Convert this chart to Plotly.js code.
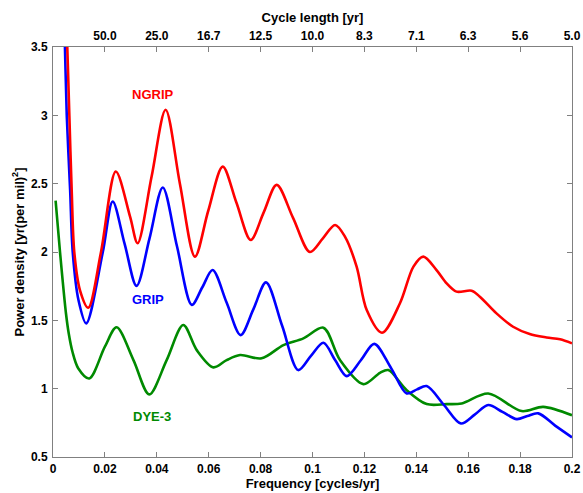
<!DOCTYPE html>
<html>
<head>
<meta charset="utf-8">
<script src="https://cdn.plot.ly/plotly-3.0.1.min.js"></script>
<style>html,body{margin:0;padding:0;background:#fff;}#chart{width:583px;height:493px;}</style>
</head>
<body>
<div id="chart"></div>
<script>
// NGRIP (red)
const ngripFreq = [0.004, 0.0055, 0.0063, 0.0072, 0.0082, 0.0104, 0.0136, 0.0185, 0.0242, 0.0297, 0.0326, 0.0380, 0.0434, 0.0489, 0.0547, 0.0598, 0.0654, 0.0707, 0.0762, 0.0812, 0.0862, 0.0925, 0.0990, 0.1040, 0.1087, 0.1125, 0.1170, 0.1209, 0.1268, 0.1337, 0.1389, 0.1427, 0.1478, 0.1517, 0.1555, 0.1613, 0.1645, 0.1709, 0.1773, 0.1837, 0.1902, 0.1954, 0.2000];
const ngripPower = [4.3, 3.5, 3.0, 2.455, 2.0, 1.72, 1.592, 2.0, 2.589, 2.259, 2.064, 2.552, 3.041, 2.5, 1.966, 2.3, 2.625, 2.36, 2.088, 2.29, 2.491, 2.25, 2.0, 2.1, 2.198, 2.113, 1.893, 1.575, 1.409, 1.625, 1.893, 1.966, 1.868, 1.771, 1.71, 1.717, 1.673, 1.551, 1.453, 1.40, 1.375, 1.361, 1.332];
// GRIP (blue)
const gripFreq = [0.0035, 0.0046, 0.0053, 0.0066, 0.0076, 0.0098, 0.0128, 0.0192, 0.0230, 0.0276, 0.0322, 0.0372, 0.0423, 0.0478, 0.0535, 0.0575, 0.0615, 0.0669, 0.0723, 0.0772, 0.0821, 0.0883, 0.0945, 0.0994, 0.1042, 0.1087, 0.1132, 0.1187, 0.1238, 0.1303, 0.1363, 0.1403, 0.1440, 0.1507, 0.1572, 0.1625, 0.1677, 0.1732, 0.1787, 0.1828, 0.1870, 0.1935, 0.2000];
const gripPower = [4.3, 3.5, 3.0, 2.455, 2.0, 1.65, 1.478, 2.0, 2.37, 2.06, 1.752, 2.1, 2.472, 2.04, 1.613, 1.74, 1.868, 1.63, 1.392, 1.58, 1.778, 1.46, 1.136, 1.24, 1.336, 1.21, 1.092, 1.21, 1.328, 1.15, 0.965, 0.995, 1.019, 0.88, 0.745, 0.81, 0.88, 0.83, 0.777, 0.80, 0.819, 0.73, 0.643];
// DYE-3 (green)
const dyeFreq = [0.0010, 0.0027, 0.0050, 0.0061, 0.0075, 0.0097, 0.0140, 0.0200, 0.0245, 0.0310, 0.0371, 0.0438, 0.0502, 0.0554, 0.0618, 0.0669, 0.0721, 0.0804, 0.0888, 0.0965, 0.1042, 0.1106, 0.1196, 0.1260, 0.1292, 0.1363, 0.1440, 0.1517, 0.1575, 0.1677, 0.1806, 0.1889, 0.2000];
const dyePower = [2.376, 2.0, 1.55, 1.40, 1.27, 1.15, 1.075, 1.307, 1.449, 1.209, 0.958, 1.209, 1.466, 1.282, 1.156, 1.209, 1.246, 1.222, 1.319, 1.368, 1.446, 1.209, 1.033, 1.116, 1.136, 0.989, 0.887, 0.887, 0.892, 0.965, 0.836, 0.867, 0.806];

const freqTicks = [0, 0.02, 0.04, 0.06, 0.08, 0.1, 0.12, 0.14, 0.16, 0.18, 0.2];
const freqTickText = ['0', '0.02', '0.04', '0.06', '0.08', '0.1', '0.12', '0.14', '0.16', '0.18', '0.2'];
const cycleTicks = [0.02, 0.04, 0.06, 0.08, 0.1, 0.12, 0.14, 0.16, 0.18, 0.2];
const cycleTickText = ['50.0', '25.0', '16.7', '12.5', '10.0', '8.3', '7.1', '6.3', '5.6', '5.0'];
const powerTicks = [0.5, 1, 1.5, 2, 2.5, 3, 3.5];
const powerTickText = ['0.5', '1', '1.5', '2', '2.5', '3', '3.5'];

const seriesNames = ['NGRIP', 'GRIP', 'DYE-3'];
const seriesColors = ['#ff0000', '#0000ff', '#008a00'];
const labelPos = [[0.0387, 3.15], [0.0367, 1.654], [0.038, 0.80]];

const FONT = 'Arial, "Liberation Sans", Helvetica, sans-serif';
const mk = (x, y, i) => ({
  x: x, y: y, type: 'scatter', mode: 'lines', name: seriesNames[i],
  line: {color: seriesColors[i], width: 2.6, shape: 'spline', smoothing: 0.9},
  hoverinfo: 'skip'
});

const data = [
  mk(dyeFreq, dyePower, 2),
  mk(gripFreq, gripPower, 1),
  mk(ngripFreq, ngripPower, 0),
  {x: [0.1], y: [2], xaxis: 'x2', type: 'scatter', mode: 'markers', marker: {opacity: 0}, hoverinfo: 'skip', showlegend: false}
];

const axisCommon = {
  showgrid: false, zeroline: false, showline: true, linecolor: '#808080', linewidth: 1,
  ticks: 'inside', ticklen: 5, tickwidth: 1, tickcolor: '#808080',
  tickfont: {family: FONT, size: 12, color: '#000', weight: 'bold'}
};

const layout = {
  width: 583, height: 493,
  margin: {l: 53, r: 11, t: 47, b: 36},
  paper_bgcolor: '#fff', plot_bgcolor: '#fff',
  showlegend: false,
  xaxis: Object.assign({}, axisCommon, {
    range: [0, 0.2], tickvals: freqTicks, ticktext: freqTickText, mirror: false,
    ticklabelstandoff: 1,
    title: {text: 'Frequency [cycles/yr]', font: {family: FONT, size: 13, color: '#000', weight: 'bold'}, standoff: 0}
  }),
  xaxis2: Object.assign({}, axisCommon, {
    range: [0, 0.2], overlaying: 'x', side: 'top', tickvals: cycleTicks, ticktext: cycleTickText,
    ticklabelstandoff: 1,
    title: {text: 'Cycle length [yr]', font: {family: FONT, size: 13, color: '#000', weight: 'bold'}, standoff: 3}
  }),
  yaxis: Object.assign({}, axisCommon, {
    range: [0.5, 3.5], tickvals: powerTicks, ticktext: powerTickText, mirror: 'ticks',
    ticklabelstandoff: 2,
    title: {text: 'Power density [yr(per mil)<sup>2</sup>]', font: {family: FONT, size: 13, color: '#000', weight: 'bold'}, standoff: 3}
  }),
  annotations: seriesNames.map((n, i) => ({
    x: labelPos[i][0], y: labelPos[i][1], xref: 'x', yref: 'y', text: n, showarrow: false,
    font: {family: FONT, size: 13, color: seriesColors[i], weight: 'bold'}
  }))
};

Plotly.newPlot('chart', data, layout, {staticPlot: true, displayModeBar: false});
</script>
</body>
</html>
